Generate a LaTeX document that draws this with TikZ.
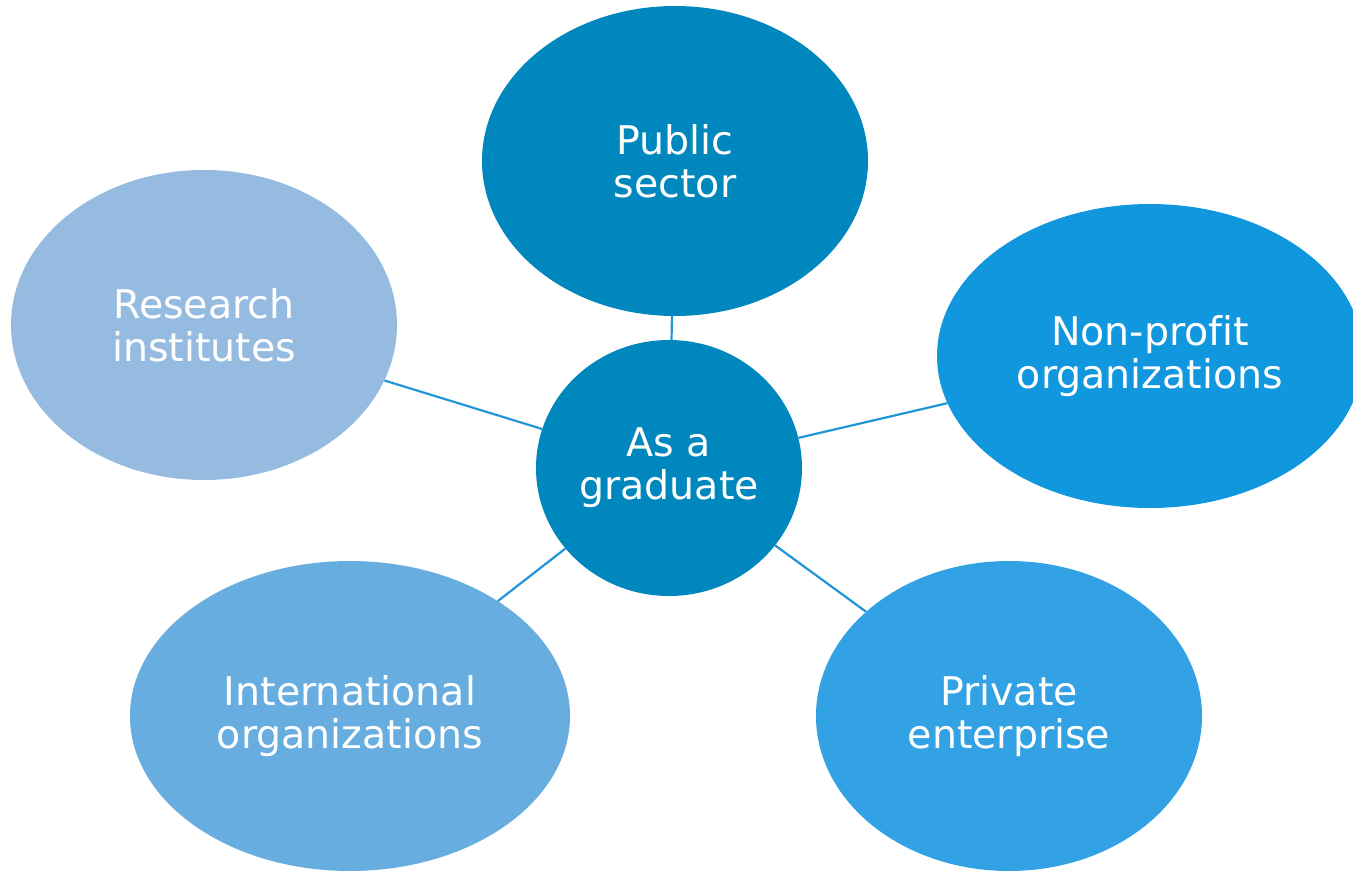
\documentclass[tikz,border=0pt]{standalone}
\usepackage{fontspec}
\setmainfont[Ligatures=NoCommon]{DejaVu Sans}
\usetikzlibrary{shapes.geometric}

\definecolor{darkblue}{HTML}{0087BD}
\definecolor{paleblue}{HTML}{95BCE0}
\definecolor{brightblue}{HTML}{1197DE}
\definecolor{midblue}{HTML}{67ADE0}
\definecolor{skyblue}{HTML}{33A2E4}
\definecolor{linkblue}{HTML}{2196D6}

\tikzset{
	bubble/.style={ellipse, inner sep=0pt, text=white, align=center,
		font=\fontsize{39.5}{43}\selectfont},
	link/.style={draw=linkblue, line width=2.2pt}
}

\begin{document}
\begin{tikzpicture}[x=1pt,y=-1pt]

	\useasboundingbox (0,0) rectangle (1353,871);

	\node[bubble, fill=darkblue, minimum width=266, minimum height=256] (grad) at (669,468) {As a\\graduate};

	\node[bubble, fill=darkblue, minimum width=386, minimum height=310] (pub) at (675,161) {Public\\sector};
	\node[bubble, fill=paleblue, minimum width=386, minimum height=310] (res) at (204,325) {Research\\institutes};
	\node[bubble, fill=brightblue, minimum width=426, minimum height=304] (npo) at (1150,356) {Non-profit\\organizations};
	\node[bubble, fill=midblue, minimum width=440, minimum height=310] (intl) at (350,716) {International\\organizations};
	\node[bubble, fill=skyblue, minimum width=386, minimum height=310] (priv) at (1009,716) {Private\\enterprise};

	% spokes
	\foreach \n in {pub, res, npo, intl, priv}{
		\draw[link] (grad) -- (\n);
	}

\end{tikzpicture}
\end{document}
